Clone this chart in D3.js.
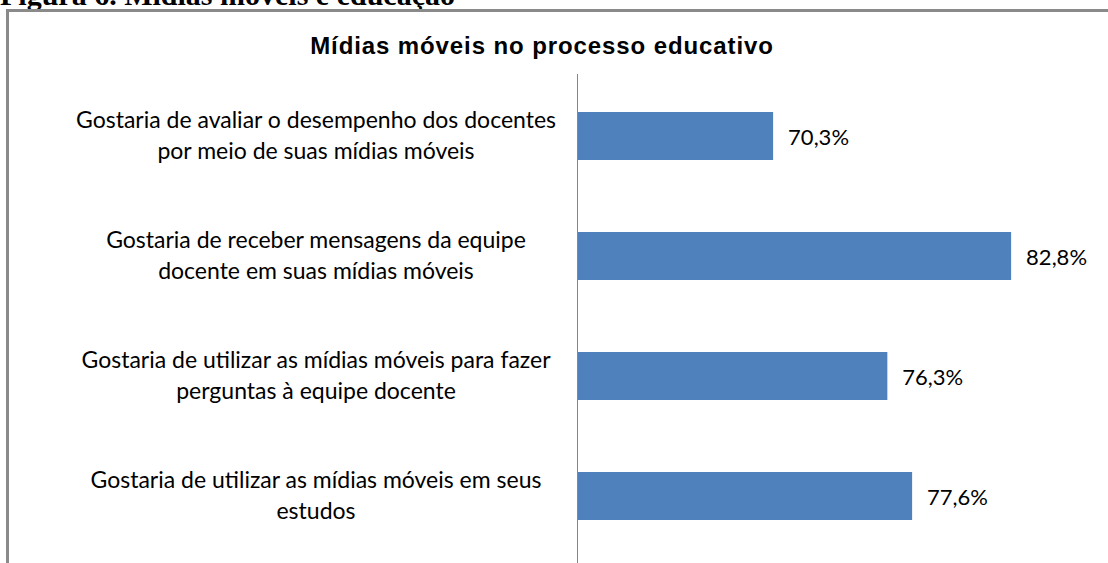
<!DOCTYPE html>
<html>
<head>
<meta charset="utf-8">
<script src="https://cdn.jsdelivr.net/npm/d3@7"></script>
<style>
  html, body { margin: 0; padding: 0; background: #fff; overflow: hidden; }
  svg { display: block; }
</style>
</head>
<body>
<svg id="chart" width="1108" height="563"></svg>
<script>
// data
var categories = ["avaliar", "receber", "perguntas", "estudos"];
var labelLines = [
    ["Gostaria de avaliar o desempenho dos docentes", "por meio de suas mídias móveis"],
    ["Gostaria de receber mensagens da equipe", "docente em suas mídias móveis"],
    ["Gostaria de utilizar as mídias móveis para fazer", "perguntas à equipe docente"],
    ["Gostaria de utilizar as mídias móveis em seus", "estudos"]
];
var values = [70.3, 82.8, 76.3, 77.6];
var valueLabels = ["70,3%", "82,8%", "76,3%", "77,6%"];
var figureCaption = "Figura 6. Mídias móveis e educação";
var chartTitle = "Mídias móveis no processo educativo";

var W = 1108, H = 563;
var svg = d3.select("#chart");

// caption above the frame (cut off at the top in the scan)
svg.append("text")
    .attr("x", 0)
    .attr("y", 5)
    .attr("font-family", "Liberation Serif")
    .attr("font-weight", "bold")
    .attr("font-size", 30)
    .attr("fill", "#000")
    .text(figureCaption);

// chart frame
svg.append("rect")
    .attr("x", 7.5)
    .attr("y", 10.5)
    .attr("width", 1200)
    .attr("height", 700)
    .attr("fill", "none")
    .attr("stroke", "#8a8a8a")
    .attr("stroke-width", 3);

svg.append("text")
    .attr("x", 542)
    .attr("y", 54)
    .attr("text-anchor", "middle")
    .attr("font-family", "Liberation Sans")
    .attr("font-weight", "bold")
    .attr("font-size", 24)
    .attr("letter-spacing", 0.9)
    .attr("fill", "#000")
    .text(chartTitle);

var x = d3.scaleLinear()
    .domain([60, 85])
    .range([577, 1053]);

var y = d3.scaleBand()
    .domain(categories)
    .range([76, 556])
    .paddingInner(0.6)
    .paddingOuter(0.3);

svg.selectAll(".bar")
    .data(values)
  .enter().append("rect")
    .attr("class", "bar")
    .attr("x", x(60))
    .attr("y", function(d, i) { return y(categories[i]); })
    .attr("width", function(d) { return x(d) - x(60); })
    .attr("height", y.bandwidth())
    .attr("fill", "#4f81bd");

svg.selectAll(".val")
    .data(values)
  .enter().append("text")
    .attr("class", "val")
    .attr("x", function(d) { return x(d) + 15; })
    .attr("y", function(d, i) { return y(categories[i]) + y.bandwidth() / 2 + 9; })
    .attr("font-family", "Lato")
    .attr("font-size", 22)
    .attr("fill", "#000")
    .text(function(d, i) { return valueLabels[i]; });

// vertical axis, no ticks
var axis = svg.append("g")
    .attr("transform", "translate(" + x(60) + ",0)")
    .call(d3.axisLeft(y).tickSize(0).tickFormat(""));
axis.select(".domain").remove();
axis.append("line")
    .attr("x1", 0.5).attr("x2", 0.5)
    .attr("y1", y.range()[0] - 2)
    .attr("y2", H)
    .attr("stroke", "#868686")
    .attr("stroke-width", 1);

var labelCenter = 316;
var lab = svg.selectAll(".cat")
    .data(categories)
  .enter().append("text")
    .attr("class", "cat")
    .attr("text-anchor", "middle")
    .attr("font-family", "Lato")
    .attr("font-size", 23)
    .attr("fill", "#000");

lab.selectAll("tspan")
    .data(function(d, i) { return labelLines[i]; })
  .enter().append("tspan")
    .attr("x", labelCenter)
    .attr("y", function(d, j) {
        var c = d3.select(this.parentNode).datum();
        return y(c) + y.bandwidth() / 2 - 8 + j * 31;
    })
    .text(function(d) { return d; });
</script>
</body>
</html>
